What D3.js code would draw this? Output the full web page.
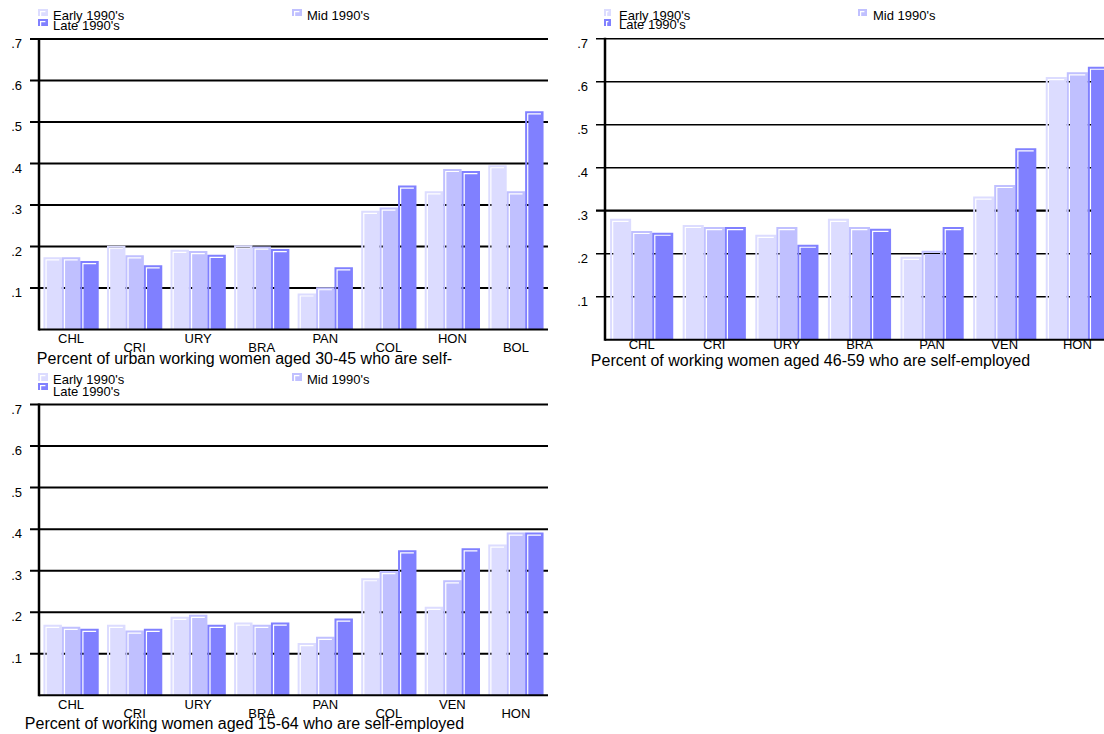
<!DOCTYPE html>
<html>
<head>
<meta charset="utf-8">
<script src="https://cdn.jsdelivr.net/npm/d3@7"></script>
<style>
  html, body { margin: 0; padding: 0; background: #fff; }
  svg { display: block; font-family: "Liberation Sans", Arial, sans-serif; }
</style>
</head>
<body>
<svg id="chart" width="1104" height="734"></svg>
<script>
// Self-employment shares of working women, by country and period
const seriesNames = ["Early 1990's", "Mid 1990's", "Late 1990's"];
const seriesColors = ["#dcdcff", "#c0c0ff", "#8080ff"];
const yTicks = [0.1, 0.2, 0.3, 0.4, 0.5, 0.6, 0.7];
const yTickLabels = [".1", ".2", ".3", ".4", ".5", ".6", ".7"];

// Urban working women aged 30-45
const categoriesA = ["CHL", "CRI", "URY", "BRA", "PAN", "COL", "HON", "BOL"];
const earlyA = [0.174, 0.202, 0.192, 0.203, 0.087, 0.286, 0.333, 0.396];
const midA   = [0.174, 0.179, 0.189, 0.200, 0.102, 0.294, 0.387, 0.333];
const lateA  = [0.165, 0.155, 0.180, 0.194, 0.150, 0.347, 0.382, 0.526];
const titleA = "Percent of urban working women aged 30-45 who are self-";

// Working women aged 46-59
const categoriesB = ["CHL", "CRI", "URY", "BRA", "PAN", "VEN", "HON"];
const earlyB = [0.281, 0.267, 0.244, 0.281, 0.193, 0.333, 0.611];
const midB   = [0.253, 0.262, 0.262, 0.262, 0.207, 0.360, 0.622];
const lateB  = [0.249, 0.262, 0.221, 0.258, 0.262, 0.445, 0.635];
const titleB = "Percent of working women aged 46-59 who are self-employed";

// Working women aged 15-64
const categoriesC = ["CHL", "CRI", "URY", "BRA", "PAN", "COL", "VEN", "HON"];
const earlyC = [0.170, 0.170, 0.189, 0.175, 0.126, 0.282, 0.213, 0.363];
const midC   = [0.165, 0.156, 0.194, 0.170, 0.141, 0.299, 0.277, 0.392];
const lateC  = [0.160, 0.160, 0.170, 0.175, 0.185, 0.349, 0.354, 0.392];
const titleC = "Percent of working women aged 15-64 who are self-employed";

const svg = d3.select("#chart");
svg.append("rect").attr("width", 1104).attr("height", 734).attr("fill", "#fff");

// A bar with a thin see-through "L" bevel just inside its top and left edges
function bevelPath(x, y, w, h) {
  const yb = y + h;
  const outer = `M${x},${y}H${x + w}V${yb}H${x}Z`;
  const hole = `M${x + 2},${yb}V${y + 2}H${x + w - 2.6}V${y + 3.2}H${x + 3.2}V${yb}Z`;
  return outer + hole;
}

function drawPanel(cfg) {
  const g = svg.append("g");
  const y = d3.scaleLinear().domain([0, 0.7]).range([cfg.yBase, cfg.yTop]);
  const x = d3.scaleBand().domain(cfg.categories).range([cfg.x0, cfg.x1])
    .paddingInner(0.13).paddingOuter(0.07);
  const sub = d3.scaleBand().domain(d3.range(3)).range([0, x.bandwidth()]);
  const series = [cfg.early, cfg.mid, cfg.late];

  // horizontal rules with their tick stubs
  g.append("g").selectAll("line").data(yTicks).join("line")
    .attr("x1", cfg.x0 - 9).attr("x2", cfg.x1)
    .attr("y1", d => y(d)).attr("y2", d => y(d))
    .attr("stroke", "#000").attr("stroke-width", cfg.gridWidth);

  // bars
  series.forEach((vals, si) => {
    g.append("g").selectAll("path").data(cfg.categories).join("path")
      .attr("fill", seriesColors[si]).attr("fill-rule", "evenodd")
      .attr("d", (c, i) => {
        const bx = x(c) + sub(si);
        const by = y(vals[i]);
        return bevelPath(bx, by, sub.bandwidth(), y(0) - by);
      });
  });

  // axis frame
  g.append("line").attr("x1", cfg.x0).attr("x2", cfg.x1)
    .attr("y1", y(0)).attr("y2", y(0)).attr("stroke", "#000").attr("stroke-width", 2);
  g.append("line").attr("x1", cfg.x0).attr("x2", cfg.x0)
    .attr("y1", y(0.7) - 1).attr("y2", y(0) + 1).attr("stroke", "#000").attr("stroke-width", 2.5);

  // y tick labels
  g.append("g").selectAll("text").data(yTicks).join("text")
    .attr("x", cfg.x0 - 17).attr("y", d => y(d) + 9)
    .attr("text-anchor", "end").attr("font-size", 13).attr("fill", "#000")
    .text((d, i) => yTickLabels[i]);

  // category labels (staggered when space is tight)
  g.append("g").selectAll("text").data(cfg.categories).join("text")
    .attr("x", c => x(c) + x.bandwidth() / 2)
    .attr("y", (c, i) => y(0) + (cfg.stagger ? (i % 2 ? 22.5 : 13.5) : 9.5))
    .attr("text-anchor", "middle").attr("font-size", 13).attr("fill", "#000")
    .text(c => c);

  // title under the plot
  g.append("text").attr("x", cfg.x0 + 205.5).attr("y", y(0) + cfg.titleGap)
    .attr("text-anchor", "middle").attr("font-size", 16).attr("fill", "#000")
    .text(cfg.title);

  // legend
  cfg.legend.forEach((item, si) => {
    g.append("path").attr("fill", seriesColors[si]).attr("fill-rule", "evenodd")
      .attr("d", bevelPath(item.mx, item.my, item.mw, item.mh));
    g.append("text").attr("x", item.tx).attr("y", item.ty)
      .attr("font-size", 13).attr("fill", "#000").text(seriesNames[si]);
  });
}

drawPanel({
  categories: categoriesA, early: earlyA, mid: midA, late: lateA, title: titleA,
  x0: 39, x1: 548, yBase: 329.5, yTop: 39, stagger: true, titleGap: 34,
  gridWidth: 2,
  legend: [
    { mx: 38, my: 9, mw: 10, mh: 7, tx: 53, ty: 20 },
    { mx: 292, my: 9, mw: 10, mh: 7, tx: 307, ty: 19.5 },
    { mx: 38, my: 19, mw: 10, mh: 7, tx: 53, ty: 29.5 }
  ]
});

drawPanel({
  categories: categoriesB, early: earlyB, mid: midB, late: lateB, title: titleB,
  x0: 605, x1: 1114, yBase: 339.7, yTop: 38.7, stagger: false, titleGap: 26,
  gridWidth: d => (d === 0.3 ? 2.2 : 1.4),
  legend: [
    { mx: 604, my: 9, mw: 7, mh: 7, tx: 619, ty: 19.5 },
    { mx: 858, my: 9, mw: 9, mh: 7, tx: 873, ty: 19.5 },
    { mx: 604, my: 19, mw: 7, mh: 7, tx: 619, ty: 29 }
  ]
});

drawPanel({
  categories: categoriesC, early: earlyC, mid: midC, late: lateC, title: titleC,
  x0: 39, x1: 548, yBase: 695.3, yTop: 404.5, stagger: true, titleGap: 34,
  gridWidth: 2,
  legend: [
    { mx: 38, my: 373, mw: 10, mh: 8, tx: 53, ty: 384 },
    { mx: 292, my: 373, mw: 10, mh: 8, tx: 307, ty: 384 },
    { mx: 38, my: 383, mw: 10, mh: 7, tx: 53, ty: 396 }
  ]
});
</script>
</body>
</html>
